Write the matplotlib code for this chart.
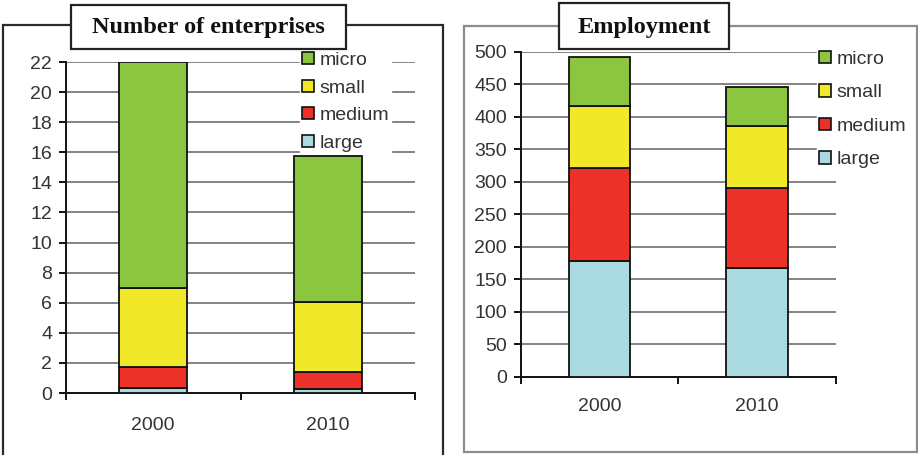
import matplotlib
matplotlib.use("Agg")
import matplotlib.pyplot as plt
from matplotlib.patches import Patch, Rectangle
import numpy as np

years = ["2000", "2010"]
sizes = ["large", "medium", "small", "micro"]
colors = {"large": "#a8dadf", "medium": "#ec3228", "small": "#f0e828", "micro": "#8cc540"}

# Number of enterprises (stacked by size class)
enterprises = {
    "large": [0.3, 0.25],
    "medium": [1.4, 1.17],
    "small": [5.3, 4.6],
    "micro": [15.0, 9.7],
}
enterprise_ticks = list(range(0, 23, 2))

# Employment (stacked by size class)
employment = {
    "large": [178, 167],
    "medium": [143, 124],
    "small": [95, 95],
    "micro": [76, 59],
}
employment_ticks = list(range(0, 501, 50))

W, H = 918, 455
fig = plt.figure(figsize=(W / 100, H / 100), dpi=100)
fig.patch.set_facecolor("white")

plt.rcParams["font.family"] = ["Liberation Sans", "DejaVu Sans"]
TXT = "#333333"


def px(x0, y0, x1, y1):
    """figure-fraction rect from pixel box (top-left origin)"""
    return [x0 / W, 1 - y1 / H, (x1 - x0) / W, (y1 - y0) / H]


def frame(x0, y0, x1, y1, color, lw):
    r = Rectangle((x0 / W, 1 - y1 / H), (x1 - x0) / W, (y1 - y0) / H,
                  transform=fig.transFigure, fill=False, edgecolor=color,
                  linewidth=lw, zorder=0)
    fig.patches.append(r)


def title_box(x0, y0, x1, y1, text, size):
    r = Rectangle((x0 / W, 1 - y1 / H), (x1 - x0) / W, (y1 - y0) / H,
                  transform=fig.transFigure, facecolor="white", edgecolor="#222222",
                  linewidth=1.6, zorder=5)
    fig.patches.append(r)
    fig.text((x0 + x1) / 2 / W, 1 - ((y0 + y1) / 2 + 1) / H, text,
             ha="center", va="center", fontsize=size, fontweight="bold",
             family=["Liberation Serif", "DejaVu Serif"], color="#111111", zorder=6)


def stacked(ax, data, ticks, ymax, legend_anchor, spacing, xpad):
    x = np.arange(len(years))
    bottom = np.zeros(len(years))
    for s in sizes:
        vals = np.array(data[s], dtype=float)
        ax.bar(x, vals, width=0.39, bottom=bottom, color=colors[s],
               edgecolor="#111111", linewidth=1.3, zorder=3)
        bottom += vals
    ax.set_xlim(-0.5, 1.5)
    ax.set_ylim(0, ymax)
    ax.set_yticks(ticks)
    ax.set_yticklabels([str(t) for t in ticks])
    ax.yaxis.grid(True, color="#7a7a7a", linewidth=1.3, zorder=0)
    ax.set_axisbelow(True)
    for sp in ("top", "right"):
        ax.spines[sp].set_visible(False)
    for sp in ("left", "bottom"):
        ax.spines[sp].set_color("#111111")
        ax.spines[sp].set_linewidth(1.4)
    ax.set_xticks(x)
    ax.set_xticklabels(years)
    ax.set_xticks([-0.5, 0.5, 1.5], minor=True)
    ax.tick_params(axis="x", which="major", length=0, pad=xpad, labelsize=14, labelcolor=TXT)
    ax.tick_params(axis="x", which="minor", length=5, width=1.4, color="#111111", direction="out")
    ax.tick_params(axis="y", length=5, width=1.4, color="#111111", direction="out",
                   pad=5, labelsize=14, labelcolor=TXT)
    handles = [Patch(facecolor=colors[s], edgecolor="#111111", linewidth=1.2, label=s)
               for s in reversed(sizes)]
    leg = ax.legend(handles=handles, loc="upper left", bbox_to_anchor=legend_anchor,
                    frameon=True, fancybox=False, framealpha=1.0, edgecolor="white",
                    facecolor="white", fontsize=14, handlelength=0.6, handleheight=0.6,
                    handletextpad=0.3, labelspacing=spacing, borderpad=0.1,
                    borderaxespad=0)
    for t in leg.get_texts():
        t.set_color(TXT)
    # legend sits over the gridlines but under the bars
    leg.set_zorder(2)
    return ax


# panel frames
frame(3, 25, 443, 470, "#2a2a2a", 1.6)
frame(464, 26, 917, 452, "#8c8c8c", 1.6)

ax1 = fig.add_axes(px(66, 62, 415, 393))
stacked(ax1, enterprises, enterprise_ticks, 22, ((300 - 66) / 349, 1.036), 0.54, 17)

ax2 = fig.add_axes(px(521, 51.7, 835.7, 376.7))
stacked(ax2, employment, employment_ticks, 500, ((817 - 521) / 314.7, 1.009), 0.85, 15)

title_box(71, 5, 346, 49, "Number of enterprises", 17.5)
title_box(559, 3, 729, 49, "Employment", 17.5)

fig.savefig("out.png", dpi=100, facecolor="white")
